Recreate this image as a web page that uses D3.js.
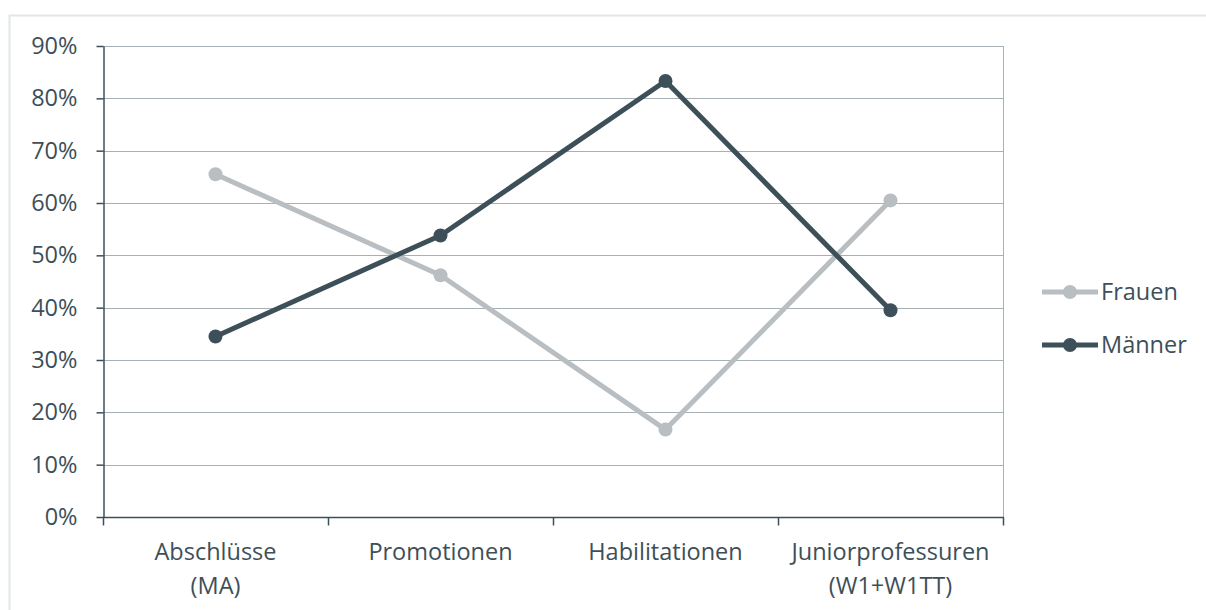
<!DOCTYPE html>
<html>
<head>
<meta charset="utf-8">
<script src="https://cdn.jsdelivr.net/npm/d3@7"></script>
<style>
  html, body { margin: 0; padding: 0; background: #fff; }
  svg { display: block; }
  text { font-family: "Open Sans", "Noto Sans", sans-serif; fill: #3d4f58; }
</style>
</head>
<body>
<svg id="chart" width="1206" height="610"></svg>
<script>
// Anteil von Frauen und Männern je Qualifikationsstufe (in Prozent)
const categories = [["Abschlüsse", "(MA)"], ["Promotionen"], ["Habilitationen"], ["Juniorprofessuren", "(W1+W1TT)"]];
const seriesNames = ["Frauen", "Männer"];
const frauen = [65.5, 46.2, 16.7, 60.5];
const maenner = [34.5, 53.8, 83.3, 39.5];
const yTicks = [0, 10, 20, 30, 40, 50, 60, 70, 80, 90];

const colors = { Frauen: "#b8bec1", "Männer": "#3d4f58" };
const series = [
  { name: seriesNames[0], values: frauen },
  { name: seriesNames[1], values: maenner }
];

const FONT = "23.5px";
const svg = d3.select("#chart");
const margin = { left: 103, right: 203, top: 46, bottom: 93 };
const W = 1206, H = 610;

// outer frame
svg.append("rect")
  .attr("x", 9.5).attr("y", 15.5)
  .attr("width", W + 10).attr("height", H + 10)
  .attr("fill", "none").attr("stroke", "#e1e7e9").attr("stroke-width", 2);

const x = d3.scaleBand()
  .domain(d3.range(categories.length))
  .range([margin.left, W - margin.right]);
const y = d3.scaleLinear()
  .domain([0, 90])
  .range([H - margin.bottom, margin.top]);

// gridlines
svg.append("g")
  .selectAll("line")
  .data(yTicks.slice(1))
  .join("line")
  .attr("x1", margin.left).attr("x2", W - margin.right)
  .attr("y1", d => Math.round(y(d)) + 0.5).attr("y2", d => Math.round(y(d)) + 0.5)
  .attr("stroke", "#a7b0b4").attr("stroke-width", 1);

// right border of plot area
svg.append("line")
  .attr("x1", W - margin.right + 0.5).attr("x2", W - margin.right + 0.5)
  .attr("y1", margin.top).attr("y2", H - margin.bottom)
  .attr("stroke", "#a7b0b4");

// y axis
const yAxis = svg.append("g")
  .attr("transform", `translate(${margin.left + 0.5},0)`)
  .call(d3.axisLeft(y).tickValues(yTicks).tickFormat(d => d + "%").tickSize(7).tickSizeOuter(0).tickPadding(19));
yAxis.attr("font-size", null).attr("font-family", null);
yAxis.select(".domain").attr("stroke", "#3d4f58").attr("stroke-width", 1.5);
yAxis.selectAll(".tick line").attr("stroke", "#3d4f58").attr("stroke-width", 1.5);
yAxis.selectAll(".tick text")
  .style("font-size", FONT)
  .attr("fill", "#3d4f58");

// x axis with ticks at category boundaries
const baseY = Math.round(y(0)) + 0.5;
svg.append("line")
  .attr("x1", margin.left).attr("x2", W - margin.right + 1)
  .attr("y1", baseY).attr("y2", baseY)
  .attr("stroke", "#3d4f58").attr("stroke-width", 1.5);
const bounds = d3.range(categories.length + 1).map(i => i < categories.length ? x(i) : x(i - 1) + x.bandwidth());
svg.append("g")
  .selectAll("line")
  .data(bounds)
  .join("line")
  .attr("x1", d => Math.round(d) + 0.5).attr("x2", d => Math.round(d) + 0.5)
  .attr("y1", baseY).attr("y2", baseY + 8)
  .attr("stroke", "#3d4f58").attr("stroke-width", 1.5);

// category labels
const lab = svg.append("g")
  .selectAll("text")
  .data(categories)
  .join("text")
  .attr("text-anchor", "middle")
  .attr("x", (d, i) => x(i) + x.bandwidth() / 2)
  .attr("y", 560)
  .style("font-size", FONT);
lab.selectAll("tspan")
  .data(d => d)
  .join("tspan")
  .attr("x", function() { return d3.select(this.parentNode).attr("x"); })
  .attr("dy", (d, i) => i === 0 ? 0 : 34)
  .text(d => d);

// lines and markers
const line = d3.line()
  .x((d, i) => x(i) + x.bandwidth() / 2)
  .y(d => y(d));

const g = svg.append("g");
series.forEach(s => {
  g.append("path")
    .datum(s.values)
    .attr("d", line)
    .attr("fill", "none")
    .attr("stroke", colors[s.name])
    .attr("stroke-width", 5)
    .attr("stroke-linejoin", "round");
  g.selectAll(null)
    .data(s.values)
    .join("circle")
    .attr("cx", (d, i) => x(i) + x.bandwidth() / 2)
    .attr("cy", d => y(d))
    .attr("r", 7)
    .attr("fill", colors[s.name]);
});

// legend
const legend = svg.append("g");
series.forEach((s, i) => {
  const ly = 292 + i * 53;
  legend.append("line")
    .attr("x1", 1042).attr("x2", 1098)
    .attr("y1", ly).attr("y2", ly)
    .attr("stroke", colors[s.name]).attr("stroke-width", 5);
  legend.append("circle")
    .attr("cx", 1070).attr("cy", ly).attr("r", 7)
    .attr("fill", colors[s.name]);
  legend.append("text")
    .attr("x", 1101).attr("y", ly + 8)
    .style("font-size", FONT)
    .text(s.name);
});
</script>
</body>
</html>
